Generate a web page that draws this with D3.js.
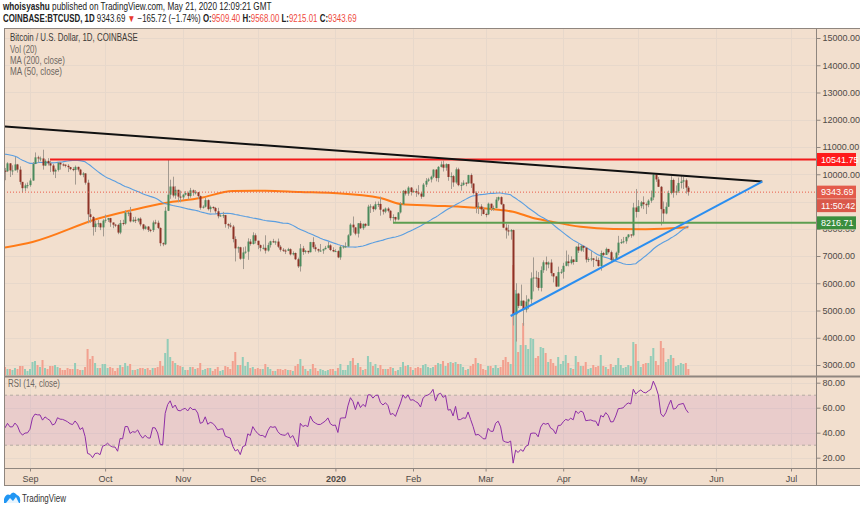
<!DOCTYPE html>
<html><head><meta charset="utf-8">
<script src="https://cdn.jsdelivr.net/npm/d3@7"></script>
<style>
body{margin:0;background:#fff;}
svg{display:block;font-family:"Liberation Sans",Arial,sans-serif;}
</style>
</head><body>
<svg id="c" width="860" height="509"></svg>
<script>
// ---------------- DATA ----------------
const startDate = "2019-08-21";
// closes before the visible window (Jul 1 - Aug 20, 2019), used only for MA(50) and RSI(14)
const warmCloses = [
 10580,10800,11980,11150,11000,11250,11480,12300,12570,12100,11350,11800,11390,10200,10850,9430,9680,10640,10530,10760,10590,10320,9860,9770,9880,9850,9480,9530,9520,9590,10090,
 10400,10530,10820,10980,11800,11470,11980,11960,11860,11290,11560,11390,10860,10020,10310,10360,10220,10320,10920,10760
];
const closes = [
 10130,10110,10400,10140,10140,10360,10170,9720,9490,9590,9600,
 9770,10380,10620,10580,10580,10320,10490,10400,10320,10100,10160,10420,10360,10350,10310,10260,10190,10160,10270,10170,9980,10030,9690,8530,8430,8060,8190,8200,8050,8300,
 8330,8390,8230,8150,8140,7860,8210,8190,8590,8590,8270,8330,8300,8370,8160,8000,8080,7960,7950,8230,8220,8030,7470,7430,8660,9250,9550,9220,9430,9180,9150,
 9250,9310,9200,9410,9320,9340,9200,8770,8810,9050,8720,8800,8760,8640,8460,8490,8500,8170,8120,8080,7620,7280,7320,6900,7130,7160,7530,7440,7760,7560,
 7400,7300,7300,7200,7400,7540,7510,7530,7340,7230,7200,7190,7250,7060,7110,6880,6620,7280,7150,7190,7140,7510,7320,7250,7200,7200,7250,7300,7390,7220,7170,
 7180,6950,7340,7350,7350,7760,8150,8050,7820,8200,8020,8180,8110,8810,8820,8720,8900,8910,8700,8630,8740,8660,8390,8430,8340,8600,8900,9390,9290,9510,9350,
 9380,9330,9290,9180,9620,9760,9810,9910,10170,9860,10270,10360,10240,10370,9900,9930,9700,10180,9600,9610,9690,9670,9970,9660,9310,8790,8820,8710,8540,
 8530,8920,8760,8760,9070,9160,8900,8040,7940,7900,7950,4860,5620,5170,5360,5030,5330,5410,6180,6210,6190,5830,6480,6770,6690,6760,6370,6250,5880,6410,6420,
 6640,6800,6740,6870,6780,7340,7200,7370,7300,6870,6890,6910,6860,6850,6630,7110,7040,7260,7140,6860,6870,7120,7490,7510,7540,7700,7790,7760,8780,8620,
 8830,8970,8900,8880,9030,9150,9990,9810,9540,8720,8560,8810,9310,9790,9320,9380,9680,9730,9780,9509.40,9343.69
];
const highs = [
 10800,10230,10440,10410,10330,10630,10380,10290,9720,9660,9700,
 9850,10450,10800,10680,10650,10900,10550,10590,10490,10380,10210,10450,10440,10400,10360,10370,10270,10260,10320,10280,10200,10080,10040,9800,8730,8460,8290,8320,8220,8350,
 8520,8400,8400,8220,8180,8180,8320,8330,8680,8640,8800,8430,8440,8400,8420,8180,8120,8100,8000,8300,8330,8300,8050,7500,8800,10540,9800,9910,9560,9430,9400,
 9280,9380,9360,9500,9440,9420,9350,9220,8860,9140,9080,8850,8820,8800,8770,8530,8620,8510,8200,8220,8140,7720,7350,7340,7320,7350,7650,7620,7870,7830,
 7560,7420,7420,7760,7490,7560,7630,7560,7640,7400,7290,7250,7300,7280,7170,7130,6940,7440,7370,7220,7190,7520,7690,7420,7270,7440,7270,7370,7520,7430,7320,
 7250,7210,7400,7390,7500,7800,8200,8450,8050,8210,8290,8190,8200,8880,8900,8850,9000,9000,9180,8730,8780,8790,8680,8530,8440,8610,8980,9420,9440,9560,9530,
 9440,9470,9600,9350,9680,9860,9870,9950,10180,10190,10300,10470,10500,10400,10380,10070,9970,10250,10240,9700,9780,9700,9980,10030,9660,9370,8970,8900,8800,
 8590,8960,8920,8850,9160,9180,9190,8920,8180,8150,7990,7970,6000,5650,5950,5370,5560,5440,6400,6950,6460,6410,6620,6840,6980,6800,6880,6300,6270,6610,6520,
 6750,7200,7050,6990,6880,7360,7470,7420,7380,7330,6950,7180,6930,6990,6940,7200,7150,7310,7260,7200,6950,7160,7740,7620,7700,7710,7800,7790,8950,9460,
 9050,9020,9190,8960,9080,9400,10000,9940,9900,9570,9000,8970,9400,9930,9840,9590,9880,9950,9900,9840,9568.00
];
const lows = [
 9950,9780,10080,9900,9970,10140,10060,9620,9330,9380,9480,
 9540,9760,10370,10420,10480,10170,10300,10320,10080,9980,9860,10100,10170,10290,10250,10080,10150,10110,9620,10100,9950,9890,9620,8200,8220,7750,7880,8060,7950,7720,
 8220,8250,8070,8020,8060,7800,7800,8120,8150,8460,8230,8240,8210,8240,8090,7940,7970,7880,7870,7880,8160,7990,7360,7360,7400,8650,9100,9150,9100,8970,8970,
 9060,9220,9080,9140,9210,9260,9100,8700,8740,8780,8670,8600,8710,8560,8380,8440,8390,8040,8000,8040,7500,6800,7120,6860,6520,7080,6860,7380,7420,7460,
 7250,7170,7240,7090,7160,7310,7480,7410,7290,7160,7150,7070,7180,7020,7020,6850,6560,6430,7040,7090,7080,7130,7260,7160,7130,7160,7080,7240,7280,7180,7140,
 7150,6920,6860,7270,7310,7340,7730,7860,7760,7680,7990,7960,8050,8100,8580,8620,8680,8800,8480,8520,8570,8600,8300,8220,8260,8310,8560,8880,9220,9210,9220,
 9320,9170,9230,9100,9160,9530,9720,9700,9860,9740,9710,10250,10100,10130,9760,9460,9540,9650,9560,9400,9580,9560,9650,9500,9260,8570,8540,8470,8530,
 8420,8500,8650,8660,8750,9010,8870,8020,7640,7750,7600,4450,3860,5090,5180,4440,4930,5050,5250,5700,5860,5730,5700,6380,6460,6550,6260,6030,5860,5880,6340,
 6170,6620,6620,6690,6680,6780,7110,7160,7150,6760,6780,6810,6600,6800,6610,6460,7000,7040,7090,6800,6800,6850,7030,7440,7460,7450,7650,7670,7720,8410,
 8630,8750,8720,8540,8790,8950,9050,9720,9530,8120,8200,8530,8800,9260,9140,9230,9320,9480,9460,9290,9215.01
];
// volume (thousand BTC)
const volumes = [
 8,8,6,6,5,7,6,9,9,6,4,
 6,13,14,10,8,15,7,6,9,9,10,8,7,5,5,7,6,6,12,6,5,5,8,26,16,19,12,7,7,11,
 11,7,8,7,4,7,10,8,12,9,11,5,5,6,7,7,6,7,5,7,7,8,14,9,22,36,18,14,12,10,9,
 8,5,5,8,8,6,7,12,5,6,7,7,4,6,8,4,5,9,8,6,14,23,10,10,18,9,13,7,8,6,
 7,6,6,11,8,6,4,4,6,6,5,6,5,5,4,9,11,16,9,6,4,6,11,7,4,6,5,4,5,6,6,
 4,7,11,5,5,10,14,17,10,12,8,5,6,19,13,9,11,7,10,6,6,6,8,7,4,5,8,13,9,10,8,
 5,7,8,7,10,11,8,7,8,10,12,11,14,9,12,13,12,13,11,11,8,5,6,9,11,17,12,11,6,
 5,9,9,7,10,7,8,15,18,13,11,110,85,23,30,52,30,26,37,36,17,19,28,27,22,13,16,12,9,18,11,
 14,20,12,7,6,19,13,9,9,13,6,7,10,8,9,20,9,8,6,11,8,10,17,10,7,8,10,9,33,31,
 14,8,11,12,12,19,27,14,10,34,27,13,16,20,17,9,10,12,11,12,6
];
// MA(200)
const ma200Dates = ["2019-08-21","2019-09-02","2019-09-29","2019-10-12","2019-10-25","2019-11-08","2019-11-21","2019-12-04","2019-12-18","2019-12-31","2020-01-19","2020-01-27","2020-02-09","2020-02-20","2020-02-28","2020-03-07","2020-03-12","2020-03-20","2020-03-26","2020-04-08","2020-04-21","2020-05-04","2020-05-21"];
const ma200Values = [7294,7514,8394,8688,8945,9128,9385,9396,9349,9312,9128,8908,8846,8809,8761,8688,8626,8394,8284,8075,7991,7980,8053];

const priceTicks = [3000,4000,5000,6000,7000,8000,9000,10000,11000,12000,13000,14000,15000];
const rsiTicks = [20,40,60,80];
const monthTicks = ["2019-09-01","2019-10-01","2019-11-01","2019-12-01","2020-01-01","2020-02-01","2020-03-01","2020-04-01","2020-05-01","2020-06-01","2020-07-01"];
const monthLabels = ["Sep","Oct","Nov","Dec","2020","Feb","Mar","Apr","May","Jun","Jul"];

const resistance = {from:"2019-09-09", value:10541.75};
const support = {from:"2020-01-24", value:8216.71};
const lastPrice = 9343.69;
const countdown = "11:50:42";
const trendBlack = [["2019-08-21",11760],["2020-06-19T12:00",9730]];
const trendBlue  = [["2020-03-11",4798],["2020-06-19T12:00",9730]];

// ---------------- LAYOUT ----------------
const svg = d3.select("#c");
const L=4, R=816, T=28, PB=376, RT=377, RB=468, AB=485;
const BG="#f2dfce", GRID="#e7d8cb", FRAME="#8f867f", AXT="#4f4a46";
const pd = s => s.length>10 ? d3.utcParse("%Y-%m-%dT%H:%M")(s) : d3.utcParse("%Y-%m-%d")(s);

const x = d3.scaleUtc().domain([pd("2019-09-01"), pd("2020-07-01")]).range([30,791]);
const y = d3.scaleLinear().domain([3000,15000]).range([365,38]);
const yR = d3.scaleLinear().domain([20,80]).range([457.7,382.7]);
const yV = d3.scaleLinear().domain([0,110]).range([375,265]);

// data rows
const DAY = 86400000, t0 = pd(startDate);
const nW = warmCloses.length;
const all = warmCloses.concat(closes);
const rows = closes.map((c,i)=>({
  date:new Date(+t0+i*DAY),
  o: i===0 ? warmCloses[nW-1] : closes[i-1],
  h: highs[i], l: lows[i], c, v: volumes[i]
}));
// MA50
rows.forEach((d,i)=>{const j=i+nW; d.ma50 = d3.mean(all.slice(j-49,j+1));});
// RSI(14) Wilder
(function(){
  let ag=0, al=0; const rsi=new Array(all.length).fill(null);
  for(let k=1;k<=14;k++){const ch=all[k]-all[k-1]; if(ch>0)ag+=ch; else al-=ch;}
  ag/=14; al/=14; rsi[14]=100-100/(1+ag/al);
  for(let k=15;k<all.length;k++){
    const ch=all[k]-all[k-1];
    ag=(ag*13+Math.max(ch,0))/14; al=(al*13+Math.max(-ch,0))/14;
    rsi[k]= al===0?100:100-100/(1+ag/al);
  }
  rows.forEach((d,i)=>d.rsi=rsi[i+nW]);
})();

// ---------------- BACKGROUND & FRAME ----------------
svg.append("rect").attr("x",0).attr("y",0).attr("width",860).attr("height",509).attr("fill","#fff");
svg.append("rect").attr("x",L).attr("y",T).attr("width",860-L).attr("height",AB-T).attr("fill",BG);

const defs = svg.append("defs");
defs.append("clipPath").attr("id","cp").append("rect").attr("x",L+1).attr("y",T+1).attr("width",R-L-1).attr("height",PB-T-1);
defs.append("clipPath").attr("id","cr").append("rect").attr("x",L+1).attr("y",RT).attr("width",R-L-1).attr("height",RB-RT);

// grids
const grid = svg.append("g");
grid.selectAll(".hg").data(priceTicks).join("line")
  .attr("x1",L).attr("x2",R).attr("y1",d=>Math.round(y(d))+0.5).attr("y2",d=>Math.round(y(d))+0.5)
  .attr("stroke",GRID).attr("stroke-width",1);
grid.selectAll(".rg").data(rsiTicks).join("line")
  .attr("x1",L).attr("x2",R).attr("y1",d=>Math.round(yR(d))+0.5).attr("y2",d=>Math.round(yR(d))+0.5)
  .attr("stroke",GRID).attr("stroke-width",1);
monthTicks.forEach(m=>{
  const xx=Math.round(x(pd(m)))+0.5;
  grid.append("line").attr("x1",xx).attr("x2",xx).attr("y1",T).attr("y2",PB).attr("stroke",GRID);
  grid.append("line").attr("x1",xx).attr("x2",xx).attr("y1",RT).attr("y2",RB).attr("stroke",GRID);
});

// ---------------- PRICE PANE ----------------
const P = svg.append("g").attr("clip-path","url(#cp)");
// volume
const bw = 2;
P.append("g").selectAll("rect").data(rows).join("rect")
  .attr("x",d=>x(d.date)-bw/2).attr("width",bw)
  .attr("y",d=>yV(d.v)).attr("height",d=>yV(0)-yV(d.v))
  .attr("fill",d=>d.c>=d.o?"#93ccb8":"#f2a08f");
// MA200
P.append("path").datum(ma200Dates.map((d,i)=>[pd(d),ma200Values[i]]))
  .attr("d",d3.line().x(d=>x(d[0])).y(d=>y(d[1])).curve(d3.curveMonotoneX))
  .attr("fill","none").attr("stroke","#ff7b17").attr("stroke-width",2);
// MA50
P.append("path").datum(rows)
  .attr("d",d3.line().x(d=>x(d.date)).y(d=>y(d.ma50)))
  .attr("fill","none").attr("stroke","#5a9ee0").attr("stroke-width",1.1);
// candles
const cg = P.append("g");
cg.selectAll("line").data(rows).join("line")
  .attr("x1",d=>Math.round(x(d.date))+0.5).attr("x2",d=>Math.round(x(d.date))+0.5)
  .attr("y1",d=>y(Math.max(d.h,d.o,d.c))).attr("y2",d=>y(Math.min(d.l,d.o,d.c)))
  .attr("stroke","#a39a90").attr("stroke-width",1);
cg.selectAll("rect").data(rows).join("rect")
  .attr("x",d=>Math.round(x(d.date))-0.5).attr("width",2)
  .attr("y",d=>y(Math.max(d.o,d.c))).attr("height",d=>Math.max(1,Math.abs(y(d.o)-y(d.c))))
  .attr("fill",d=>d.c>=d.o?"#4a8a5c":"#8d3226");
// horizontal levels
P.append("line").attr("x1",L).attr("x2",R).attr("y1",y(lastPrice)).attr("y2",y(lastPrice))
  .attr("stroke","#ea5a48").attr("stroke-width",1).attr("stroke-dasharray","1,2");
P.append("line").attr("x1",x(pd(resistance.from))).attr("x2",R).attr("y1",y(resistance.value)).attr("y2",y(resistance.value))
  .attr("stroke","#f21a1a").attr("stroke-width",2);
P.append("line").attr("x1",x(pd(support.from))).attr("x2",R).attr("y1",y(support.value)).attr("y2",y(support.value))
  .attr("stroke","#5c9e50").attr("stroke-width",2);
// trend lines
const tl = d3.line().x(d=>x(pd(d[0]))).y(d=>y(d[1]));
P.append("path").datum(trendBlack).attr("d",tl).attr("stroke","#111").attr("stroke-width",2).attr("fill","none");
P.append("path").datum(trendBlue).attr("d",tl).attr("stroke","#2a8ef0").attr("stroke-width",2).attr("fill","none");

// ---------------- RSI PANE ----------------
const Rg = svg.append("g").attr("clip-path","url(#cr)");
Rg.append("rect").attr("x",L).attr("width",R-L).attr("y",yR(70)).attr("height",yR(30)-yR(70)).attr("fill","#9c27b0").attr("fill-opacity",0.1);
[70,30].forEach(v=>Rg.append("line").attr("x1",L).attr("x2",R).attr("y1",yR(v)).attr("y2",yR(v))
  .attr("stroke","#b4aaa2").attr("stroke-dasharray","3,3"));
Rg.append("path").datum(rows).attr("d",d3.line().x(d=>x(d.date)).y(d=>yR(d.rsi)))
  .attr("fill","none").attr("stroke","#8e2ea6").attr("stroke-width",1);

// ---------------- FRAME LINES ----------------
const fr = svg.append("g").attr("stroke",FRAME).attr("fill","none");
fr.append("line").attr("x1",L+0.5).attr("x2",L+0.5).attr("y1",T).attr("y2",AB);
fr.append("line").attr("x1",L).attr("x2",860).attr("y1",T+0.5).attr("y2",T+0.5);
fr.append("line").attr("x1",L).attr("x2",860).attr("y1",AB+0.5).attr("y2",AB+0.5);
fr.append("line").attr("x1",R+0.5).attr("x2",R+0.5).attr("y1",T).attr("y2",AB);
fr.append("line").attr("x1",L).attr("x2",860).attr("y1",PB+0.5).attr("y2",PB+0.5).attr("stroke-width",2);
fr.append("line").attr("x1",L).attr("x2",860).attr("y1",RB+0.5).attr("y2",RB+0.5);

// ---------------- AXES ----------------
const ya = svg.append("g").attr("transform",`translate(${R+0.5},0)`)
  .call(d3.axisRight(y).tickValues(priceTicks).tickFormat(d3.format(".2f")).tickSize(4).tickPadding(2));
const yra = svg.append("g").attr("transform",`translate(${R+0.5},0)`)
  .call(d3.axisRight(yR).tickValues(rsiTicks).tickFormat(d3.format(".2f")).tickSize(4).tickPadding(2));
const xa = svg.append("g").attr("transform",`translate(0,${RB+0.5})`)
  .call(d3.axisBottom(x).tickValues(monthTicks.map(pd)).tickFormat((d,i)=>monthLabels[i]).tickSize(3).tickPadding(4));
[ya,yra,xa].forEach(g=>{
  g.select(".domain").remove();
  g.selectAll(".tick line").attr("stroke",FRAME);
  g.selectAll(".tick text").attr("fill",AXT).attr("font-size",9).attr("font-family","Liberation Sans, Arial, sans-serif");
});
xa.selectAll(".tick text").filter((d,i)=>monthLabels[i]==="2020").attr("font-weight","bold");
// 9000.00 sits fully under the last-price / countdown labels (hidden in the reference)
ya.selectAll(".tick text").filter(d=>d===9000).remove();
// 8000.00 is only partly visible below the support label: show just its lower part
defs.append("clipPath").attr("id","c8k").append("rect")
  .attr("x",0).attr("y",y(support.value)+6.5-y(8000)).attr("width",60).attr("height",20);
ya.selectAll(".tick").filter(d=>d===8000).select("text").attr("clip-path","url(#c8k)");

// price labels on axis
function axLabel(val, txt, fill, dy){
  const yy = y(val)+(dy||0);
  const g = svg.append("g");
  g.append("rect").attr("x",R+1).attr("y",yy-6.5).attr("width",39).attr("height",13).attr("fill",fill);
  g.append("text").attr("x",R+5).attr("y",yy+3.2).attr("fill","#fff").attr("font-size",9).text(txt);
}
axLabel(resistance.value, d3.format(".2f")(resistance.value), "#ff1a1a");
axLabel(lastPrice, d3.format(".2f")(lastPrice), "#e35b4b");
axLabel(lastPrice, countdown, "#d9584a", 13.5);
axLabel(support.value, d3.format(".2f")(support.value), "#3b8e3e");

// ---------------- TEXTS (narrow font look via horizontal scaling) ----------------
function narrowText(x0, y0, size, targetW, build){
  const g = svg.append("g");
  const t = g.append("text").attr("x",0).attr("y",0).attr("font-size",size);
  build(t);
  const w = t.node().getComputedTextLength();
  const s = targetW / w;
  g.attr("transform",`translate(${x0},${y0}) scale(${s},1)`);
  return t;
}

narrowText(3,10,10,269,t=>{
  t.attr("fill","#222");
  t.append("tspan").attr("font-weight","bold").text("whoisyashu");
  t.append("tspan").text(" published on TradingView.com, May 21, 2020 12:09:21 GMT");
});
narrowText(3,22,10,354,t=>{
  t.attr("fill","#222");
  t.append("tspan").attr("font-weight","bold").text("COINBASE:BTCUSD, 1D");
  t.append("tspan").text(" 9343.69 ");
  t.append("tspan").attr("fill","#e8382c").text("▼");
  t.append("tspan").text(" −165.72 (−1.74%) ");
  [["O:","9509.40"],[" H:","9568.00"],[" L:","9215.01"],[" C:","9343.69"]].forEach(([k,v])=>{
    t.append("tspan").attr("font-weight","bold").text(k);
    t.append("tspan").attr("fill","#ef4a3c").text(v);
  });
});
narrowText(10,41,10,128,t=>t.attr("fill","#3d3a37").text("Bitcoin / U.S. Dollar, 1D, COINBASE"));
narrowText(10,52.5,10,27,t=>t.attr("fill","#6e6761").text("Vol (20)"));
narrowText(10,63.5,10,55,t=>t.attr("fill","#6e6761").text("MA (200, close)"));
narrowText(10,74.5,10,52,t=>t.attr("fill","#6e6761").text("MA (50, close)"));
narrowText(8,387,10,52,t=>t.attr("fill","#6e6761").text("RSI (14, close)"));

// logo
const lgo = svg.append("g");
lgo.append("path").attr("d","M4,503 L4,499 Q6,493 10,495 Q13,490 17,495 Q21,496 20,503 Z").attr("fill","#2196f3");
lgo.append("path").attr("d","M6,503 L10,498 L13,501 L16,497 L19,503 Z").attr("fill","#fff").attr("opacity",0.9);
narrowText(22,502,10,44,t=>t.attr("fill","#333").text("TradingView"));
</script>
</body></html>
